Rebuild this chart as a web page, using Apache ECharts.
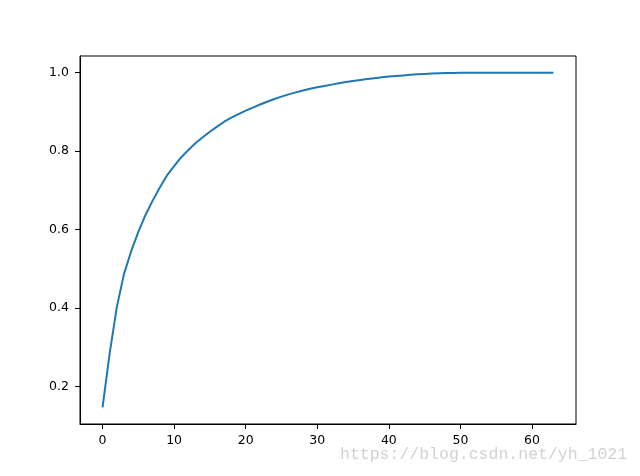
<!DOCTYPE html>
<html>
<head>
<meta charset="utf-8">
<script src="https://cdn.jsdelivr.net/npm/echarts@6/dist/echarts.min.js"></script>
<style>html,body{margin:0;padding:0;background:#fff}#c{width:640px;height:476px}</style>
</head>
<body>
<div id="c"></div>
<script>
const cumulativeVariance = [
  0.1470, 0.2851, 0.4030, 0.4871, 0.5450, 0.5941, 0.6373, 0.6739, 0.7074, 0.7382,
  0.7620, 0.7847, 0.8029, 0.8206, 0.8353, 0.8494, 0.8626, 0.8751, 0.8853, 0.8943,
  0.9032, 0.9112, 0.9189, 0.9261, 0.9331, 0.9390, 0.9448, 0.9499, 0.9548, 0.9591,
  0.9628, 0.9664, 0.9697, 0.9730, 0.9761, 0.9790, 0.9816, 0.9839, 0.9861, 0.9882,
  0.9901, 0.9917, 0.9932, 0.9946, 0.9959, 0.9970, 0.9979, 0.9987, 0.9992, 0.9996,
  0.9998, 0.9999, 0.99995, 0.99998, 0.99999, 1.0, 1.0, 1.0, 1.0, 1.0,
  1.0, 1.0, 1.0, 1.0
];
const xTicks = [0, 10, 20, 30, 40, 50, 60];
const yTicks = [0.2, 0.4, 0.6, 0.8, 1.0];
const watermark = 'https://blog.csdn.net/yh_1021';

const points = cumulativeVariance.map((v, i) => [i, v]);
const n = cumulativeVariance.length - 1;
const xPad = n * 0.05;
const yMinD = Math.min(...cumulativeVariance), yMaxD = Math.max(...cumulativeVariance);
const yPad = (yMaxD - yMinD) * 0.05;

const chart = echarts.init(document.getElementById('c'), null, {renderer: 'canvas'});
const labelStyle = {color: '#000', fontFamily: 'DejaVu Sans', fontSize: 12.5};
chart.setOption({
  animation: false,
  backgroundColor: '#fff',
  grid: {left: 80, top: 56, width: 496, height: 368, show: true, borderColor: '#000', borderWidth: 1, backgroundColor: 'transparent'},
  xAxis: {
    type: 'value', min: -xPad, max: n + xPad,
    axisLine: {show: true, onZero: false, lineStyle: {color: '#000', width: 1}},
    axisTick: {show: true, inside: false, length: 5, lineStyle: {color: '#000'}, customValues: xTicks},
    axisLabel: Object.assign({margin: 10, customValues: xTicks, formatter: v => String(v)}, labelStyle),
    splitLine: {show: false}
  },
  yAxis: {
    type: 'value', min: yMinD - yPad, max: yMaxD + yPad,
    axisLine: {show: true, onZero: false, lineStyle: {color: '#000', width: 1}},
    axisTick: {show: true, inside: false, length: 5, lineStyle: {color: '#000'}, customValues: yTicks},
    axisLabel: Object.assign({margin: 11, customValues: yTicks, formatter: v => v.toFixed(1)}, labelStyle),
    splitLine: {show: false}
  },
  series: [{
    type: 'line', data: points, showSymbol: false, smooth: false,
    lineStyle: {color: '#1f77b4', width: 2}
  }],
  graphic: [{
    type: 'text', left: 340, top: 446,
    style: {text: watermark, fill: '#d2d2d2', font: '16.5px "Liberation Mono"'}
  }]
});
</script>
</body>
</html>
